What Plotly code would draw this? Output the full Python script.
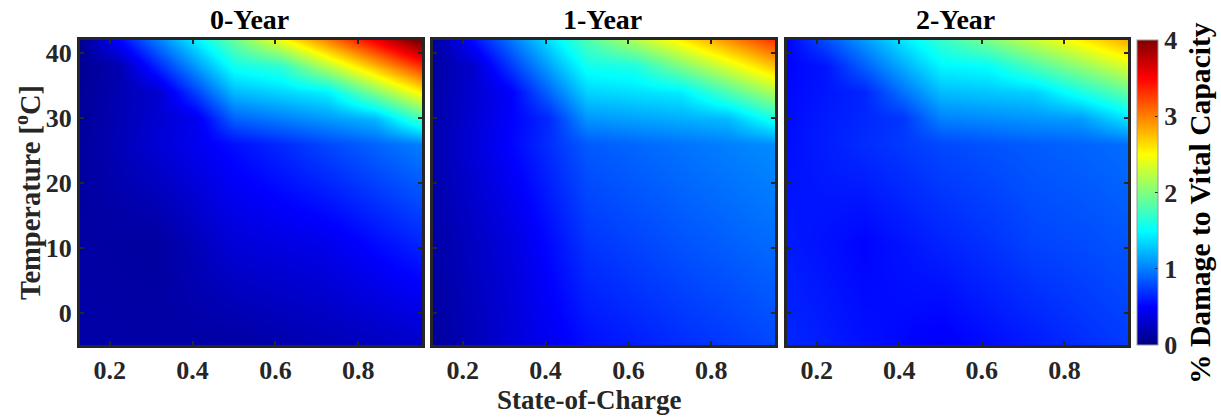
import plotly.graph_objects as go

# sample points (State-of-Charge, Temperature [oC])
soc = [0.128, 0.221, 0.314, 0.407, 0.5, 0.614, 0.727, 0.841, 0.954]
temp = [-5, 10.5, 26, 30, 34, 38, 42]

# % damage to vital capacity read at those points; rows = temp (ascending), cols = soc
year0 = [[0.15, 0.14, 0.14, 0.13, 0.12, 0.16, 0.20, 0.24, 0.28],
         [0.13, 0.12, 0.11, 0.22, 0.34, 0.38, 0.42, 0.53, 0.64],
         [0.10, 0.21, 0.33, 0.44, 0.55, 0.66, 0.78, 0.89, 1.00],
         [0.09, 0.20, 0.31, 0.43, 0.89, 1.00, 1.11, 1.23, 1.78],
         [0.08, 0.19, 0.30, 0.76, 1.23, 1.34, 1.45, 2.00, 2.55],
         [0.06, 0.18, 0.64, 1.10, 1.56, 1.68, 2.23, 2.78, 3.33],
         [0.05, 0.51, 0.98, 1.44, 1.90, 2.45, 3.00, 3.55, 4.10]]
year1 = [[0.10, 0.21, 0.33, 0.44, 0.55, 0.61, 0.67, 0.72, 0.78],
         [0.14, 0.25, 0.36, 0.53, 0.70, 0.76, 0.82, 0.87, 0.92],
         [0.17, 0.34, 0.51, 0.68, 0.85, 0.90, 0.95, 1.00, 1.05],
         [0.15, 0.32, 0.49, 0.66, 1.09, 1.14, 1.19, 1.24, 1.61],
         [0.14, 0.31, 0.48, 0.90, 1.33, 1.38, 1.43, 1.80, 2.18],
         [0.12, 0.29, 0.71, 1.14, 1.56, 1.61, 1.99, 2.36, 2.74],
         [0.10, 0.53, 0.95, 1.38, 1.80, 2.18, 2.55, 2.93, 3.30]]
year2 = [[0.65, 0.61, 0.56, 0.52, 0.47, 0.54, 0.60, 0.67, 0.73],
         [0.60, 0.56, 0.51, 0.57, 0.63, 0.69, 0.76, 0.79, 0.83],
         [0.55, 0.61, 0.67, 0.72, 0.78, 0.82, 0.86, 0.89, 0.93],
         [0.54, 0.60, 0.65, 0.71, 1.01, 1.05, 1.09, 1.12, 1.41],
         [0.53, 0.58, 0.64, 0.94, 1.24, 1.28, 1.32, 1.60, 1.88],
         [0.51, 0.57, 0.87, 1.17, 1.47, 1.51, 1.79, 2.07, 2.36],
         [0.50, 0.80, 1.10, 1.40, 1.70, 1.98, 2.27, 2.55, 2.83]]

titles = ["0-Year", "1-Year", "2-Year"]
panels = [year0, year1, year2]

x_ticks = [0.2, 0.4, 0.6, 0.8]
y_ticks = [0, 10, 20, 30, 40]
cb_ticks = [0, 1, 2, 3, 4]

jet = [[0.0, "rgb(0,0,132)"], [0.125, "rgb(0,0,255)"], [0.375, "rgb(0,255,255)"],
       [0.625, "rgb(255,255,0)"], [0.875, "rgb(255,0,0)"], [1.0, "rgb(128,0,0)"]]

W, H = 1221, 417
L, R, T, B = 80, 93, 40, 72
PW, PH = W - L - R, H - T - B
xdom_px = [(80, 422), (433, 775), (787, 1128)]


def px_x(p):
    return (p - L) / PW


def px_y(p):
    return (H - B - p) / PH


FONT = "Liberation Serif"
axcol = "#262626"

fig = go.Figure()
for i, z in enumerate(panels):
    sfx = "" if i == 0 else str(i + 1)
    fig.add_trace(go.Heatmap(x=soc, y=temp, z=z, zsmooth="best", coloraxis="coloraxis",
                             xaxis="x" + sfx, yaxis="y" + sfx, hoverinfo="skip"))
    common = dict(showline=True, mirror="allticks", linewidth=3, linecolor=axcol,
                  ticks="inside", ticklen=4, tickwidth=2, tickcolor=axcol,
                  showgrid=False, zeroline=False,
                  tickfont=dict(family=FONT, size=26, color=axcol, weight="bold"))
    fig.layout["xaxis" + sfx] = dict(common, domain=[px_x(xdom_px[i][0]), px_x(xdom_px[i][1])],
                                     range=[0.128, 0.954], tickvals=x_ticks,
                                     ticktext=[str(v) for v in x_ticks],
                                     anchor="y" + sfx)
    fig.layout["yaxis" + sfx] = dict(common, domain=[0, 1], range=[-5, 42], tickvals=y_ticks,
                                     showticklabels=(i == 0), anchor="x" + sfx)
    fig.add_annotation(text="<b>%s</b>" % titles[i], xref="paper", yref="paper",
                       x=px_x((xdom_px[i][0] + xdom_px[i][1]) / 2 - 2), y=px_y(20),
                       xanchor="center", yanchor="middle",
                       showarrow=False, font=dict(family=FONT, size=28, color="black"))

fig.add_annotation(text="<b>State-of-Charge</b>", xref="paper", yref="paper",
                   x=px_x(589), y=px_y(400), xanchor="center", yanchor="middle",
                   showarrow=False, font=dict(family=FONT, size=27, color=axcol))
fig.add_annotation(text="<b>Temperature [<sup>o</sup>C]</b>", xref="paper", yref="paper",
                   x=px_x(28), y=px_y(193), xanchor="center", yanchor="middle",
                   showarrow=False, textangle=-90,
                   font=dict(family=FONT, size=28.5, color=axcol))
fig.add_annotation(text="<b>% Damage to Vital Capacity</b>", xref="paper", yref="paper",
                   x=px_x(1200), y=px_y(203), xanchor="center", yanchor="middle",
                   showarrow=False, textangle=-90,
                   font=dict(family=FONT, size=29.6, color="black"))

fig.update_layout(
    width=W, height=H, margin=dict(l=L, r=R, t=T, b=B),
    paper_bgcolor="white", plot_bgcolor="white",
    coloraxis=dict(colorscale=jet, cmin=0, cmax=4,
                   colorbar=dict(x=px_x(1137), xanchor="left", y=0.5, yanchor="middle",
                                 len=1, lenmode="fraction", thickness=21, xpad=0, ypad=0,
                                 thicknessmode="pixels", outlinewidth=1, outlinecolor="#999",
                                 tickvals=cb_ticks, ticks="inside", ticklen=3,
                                 tickcolor=axcol, tickprefix=" ",
                                 tickfont=dict(family=FONT, size=26, color=axcol, weight="bold"))),
)
fig.write_html("out.html")
